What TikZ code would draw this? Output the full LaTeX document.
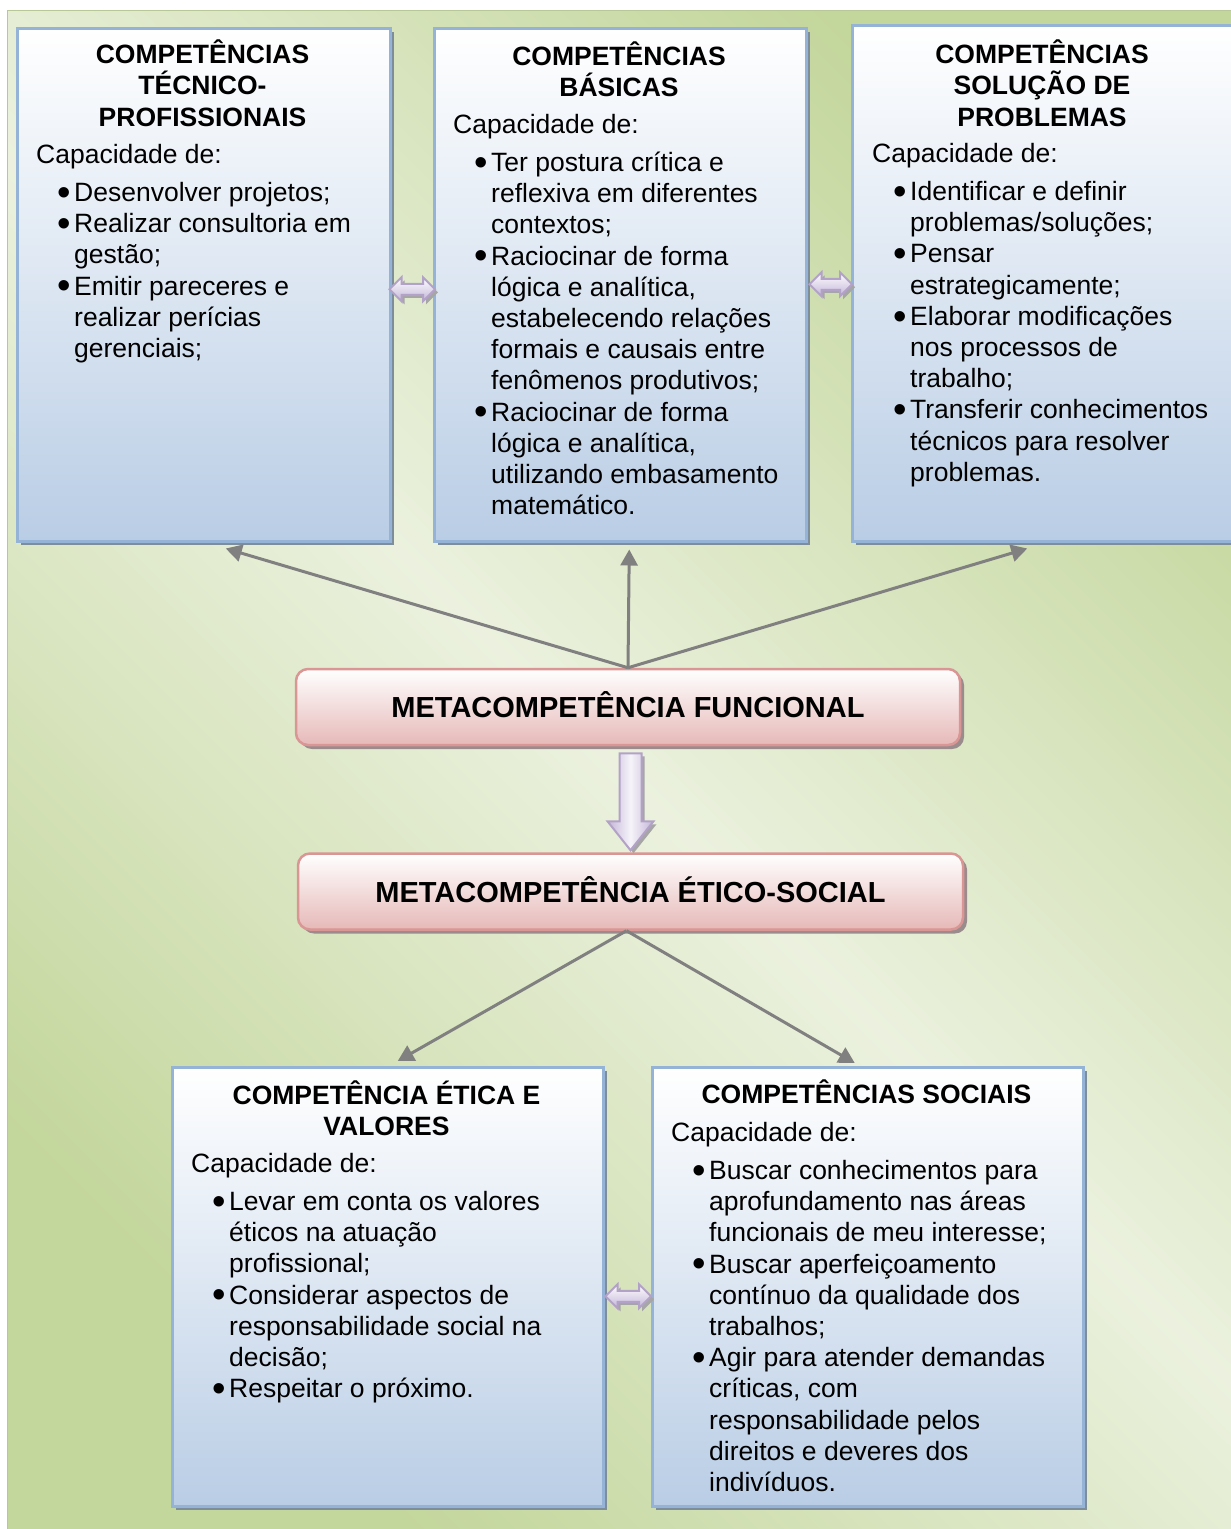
\documentclass[tikz,border=0pt]{standalone}
\usepackage{fontspec}
\setmainfont{Liberation Sans}
\usetikzlibrary{arrows.meta,calc,shadows}

\definecolor{gdark}{HTML}{C3D69B}
\definecolor{glight}{HTML}{EBF1DE}
\definecolor{bluefill}{HTML}{B9CDE5}
\definecolor{blueline}{HTML}{95B3D7}
\definecolor{boxshadow}{HTML}{7E8D9A}
\definecolor{pinkfill}{HTML}{E6B9B8}
\definecolor{pinkline}{HTML}{D99694}
\definecolor{pinkshadow}{HTML}{9A8C8C}
\definecolor{lavfill}{HTML}{C3B5D8}
\definecolor{lavline}{HTML}{B3A2C7}
\definecolor{connector}{HTML}{808080}

% text helpers: bullet line and continuation line
\newcommand\bu{\hspace*{24.5pt}\makebox[13.5pt][l]{\makebox[8pt][c]{\smash{\raisebox{-0.15em}{\scalebox{1.45}{\textbullet}}}}}}
\newcommand\cn{\hspace*{38pt}}
\newcommand\topstrut{\rule{0pt}{26pt}}

% two-headed block arrow between two coordinates
\newcommand\dblarrow[2]{%
  \path[blockarrow, top color=white, bottom color=lavfill]
    (#1) -- ($(#1)+(12,-12)$) -- ($(#1)+(12,-5.5)$) -- ($(#2)+(-12,-5.5)$)
    -- ($(#2)+(-12,-12)$) -- (#2) -- ($(#2)+(-12,12)$) -- ($(#2)+(-12,5.5)$)
    -- ($(#1)+(12,5.5)$) -- ($(#1)+(12,12)$) -- cycle;}

\tikzset{
  compbox/.style={rectangle, draw=blueline, line width=2.5pt,
    top color=white, bottom color=bluefill, anchor=north west, inner sep=0pt,
    drop shadow={shadow xshift=4pt, shadow yshift=-4pt, fill=boxshadow, opacity=1}},
  metabox/.style={rectangle, rounded corners=12pt, draw=pinkline, line width=2.5pt,
    top color=white, bottom color=pinkfill, inner sep=0pt,
    minimum height=76pt, text height=21pt, text depth=0pt,
    font=\fontsize{29}{34}\selectfont\bfseries,
    drop shadow={shadow xshift=4pt, shadow yshift=-4pt, fill=pinkshadow, opacity=1}},
  boxtitle/.style={anchor=north, inner sep=0pt, align=center,
    font=\fontsize{26.5}{31.2}\selectfont\bfseries},
  boxbody/.style={anchor=north west, inner sep=0pt, align=left,
    font=\fontsize{26.5}{31.2}\selectfont},
  conn/.style={draw=connector, line width=3pt,
    -{Triangle[width=17pt,length=16pt]}},
  blockarrow/.style={draw=lavline, line width=2pt, line join=miter,
    drop shadow={shadow xshift=3pt, shadow yshift=-3pt, fill=gray!70, opacity=1}},
}

\begin{document}
\begin{tikzpicture}[x=1pt, y=-1pt]
\useasboundingbox[fill=white] (0,0) rectangle (1231,1529);

% green background panel
\shade[top color=gdark, bottom color=gdark, middle color=glight, shading angle=-45]
  (7,10) rectangle (1240,1540);
\draw[gdark!90!black!90, line width=1.5pt] (7.5,1540) -- (7.5,10.5) -- (1240,10.5);

% competence boxes
\node[compbox, minimum width=373pt, minimum height=513pt] (b1) at (16,27) {};
\node[compbox, minimum width=372pt, minimum height=513pt] (b2) at (433,27) {};
\node[compbox, minimum width=386pt, minimum height=516pt] (b3) at (851,24) {};
\node[compbox, minimum width=431pt, minimum height=439pt] (b4) at (171,1066) {};
\node[compbox, minimum width=431pt, minimum height=439pt] (b5) at (651,1066) {};

% meta-competence boxes
\node[metabox, minimum width=664pt] (pa) at (628,707) {METACOMPETÊNCIA FUNCIONAL};
\node[metabox, minimum width=665pt] (pb) at (630.5,891.5) {METACOMPETÊNCIA ÉTICO-SOCIAL};

% connectors
\draw[conn] (pa.north) -- ([shift={(22pt,-6pt)}]b1.south);
\draw[conn] (pa.north) -- ([shift={(9pt,-7pt)}]b2.south);
\draw[conn] (pa.north) -- ([shift={(-18pt,-6pt)}]b3.south);
\draw[conn] ([xshift=-4pt]pb.south) -- ([shift={(10pt,5pt)}]b4.north);
\draw[conn] ([xshift=-4pt]pb.south) -- ([shift={(-13pt,3pt)}]b5.north);

% two-headed block arrows between neighbouring boxes
\coordinate (d1l) at ([shift={(-2pt,-4.5pt)}]b1.east);
\coordinate (d1r) at ($(d1l -| b2.west)+(2,0)$);
\coordinate (d2l) at ([shift={(2pt,0.5pt)}]b2.east);
\coordinate (d2r) at ($(d2l -| b3.west)+(1,0)$);
\coordinate (d3l) at ([shift={(1pt,-9.5pt)}]b4.east);
\coordinate (d3r) at (d3l -| b5.west);
\dblarrow{d1l}{d1r}
\dblarrow{d2l}{d2r}
\dblarrow{d3l}{d3r}

% downward block arrow between the meta-competences
\coordinate (ds) at ($(pa.south -| pb.north)+(0,7)$);
\coordinate (de) at ($(pb.north)+(0,-2)$);
\path[blockarrow, left color=lavfill, right color=lavfill, middle color=white!85!lavfill]
  ($(ds)+(-11,0)$) -- ($(ds)+(11,0)$) -- ($(de)+(11,-29)$) -- ($(de)+(23,-29)$)
  -- (de) -- ($(de)+(-23,-29)$) -- ($(de)+(-11,-29)$) -- cycle;

% box titles
\node[boxtitle] (t1) at (202.5,37.5) {\topstrut COMPETÊNCIAS\\TÉCNICO-\\PROFISSIONAIS};
\node[boxtitle] (t2) at (619,39.5) {\topstrut COMPETÊNCIAS\\BÁSICAS};
\node[boxtitle] (t3) at (1042,37.5) {\topstrut COMPETÊNCIAS\\SOLUÇÃO DE\\PROBLEMAS};
\node[boxtitle] (t4) at (386.5,1078.5) {\topstrut COMPETÊNCIA ÉTICA E\\VALORES};
\node[boxtitle] (t5) at (866.5,1077.5) {\topstrut COMPETÊNCIAS SOCIAIS};

% box contents
\node[boxbody] (c1) at (36,137.5) {\topstrut Capacidade de:\\[6.5pt]
\bu Desenvolver projetos;\\
\bu Realizar consultoria em\\
\cn gestão;\\
\bu Emitir pareceres e\\
\cn realizar perícias\\
\cn gerenciais;};

\node[boxbody] (c2) at (453,107.5) {\topstrut Capacidade de:\\[6.5pt]
\bu Ter postura crítica e\\
\cn reflexiva em diferentes\\
\cn contextos;\\
\bu Raciocinar de forma\\
\cn lógica e analítica,\\
\cn estabelecendo relações\\
\cn formais e causais entre\\
\cn fenômenos produtivos;\\
\bu Raciocinar de forma\\
\cn lógica e analítica,\\
\cn utilizando embasamento\\
\cn matemático.};

\node[boxbody] (c3) at (872,136.5) {\topstrut Capacidade de:\\[6.5pt]
\bu Identificar e definir\\
\cn problemas/soluções;\\
\bu Pensar\\
\cn estrategicamente;\\
\bu Elaborar modificações\\
\cn nos processos de\\
\cn trabalho;\\
\bu Transferir conhecimentos\\
\cn técnicos para resolver\\
\cn problemas.};

\node[boxbody] (c4) at (191,1146.5) {\topstrut Capacidade de:\\[6.5pt]
\bu Levar em conta os valores\\
\cn éticos na atuação\\
\cn profissional;\\
\bu Considerar aspectos de\\
\cn responsabilidade social na\\
\cn decisão;\\
\bu Respeitar o próximo.};

\node[boxbody] (c5) at (671,1115.5) {\topstrut Capacidade de:\\[6.5pt]
\bu Buscar conhecimentos para\\
\cn aprofundamento nas áreas\\
\cn funcionais de meu interesse;\\
\bu Buscar aperfeiçoamento\\
\cn contínuo da qualidade dos\\
\cn trabalhos;\\
\bu Agir para atender demandas\\
\cn críticas, com\\
\cn responsabilidade pelos\\
\cn direitos e deveres dos\\
\cn indivíduos.};
\end{tikzpicture}
\end{document}
